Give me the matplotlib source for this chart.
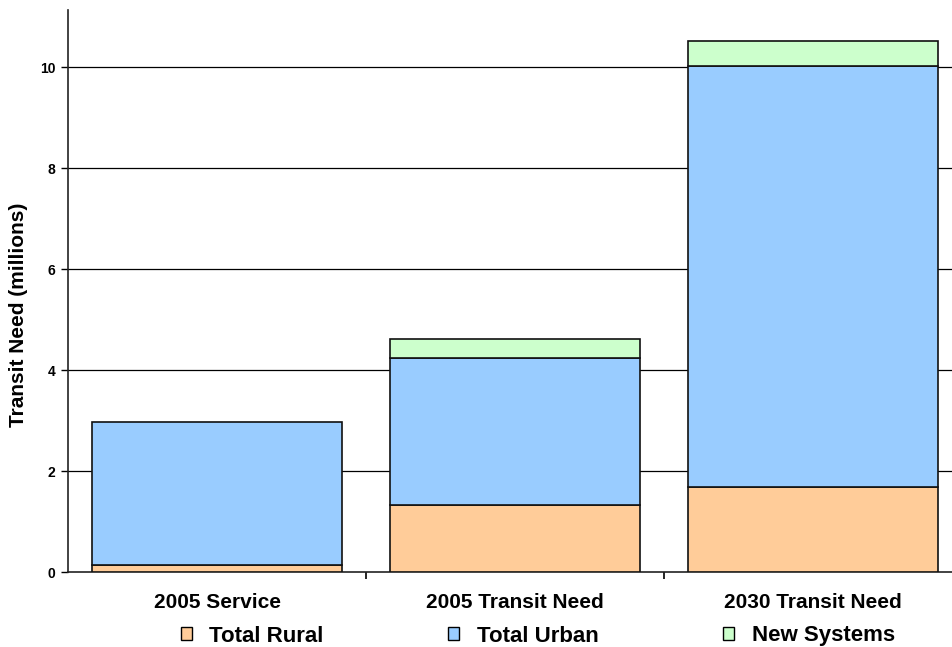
import matplotlib
matplotlib.use("Agg")
import matplotlib.pyplot as plt
from matplotlib.patches import Patch
import numpy as np

# Transit need by scenario, millions
categories = ["2005 Service", "2005 Transit Need", "2030 Transit Need"]
rural = [0.14, 1.33, 1.69]
urban = [2.83, 2.91, 8.33]
new_systems = [0.0, 0.37, 0.50]
series_names = ["Total Rural", "Total Urban", "New Systems"]
colors = ["#FFCC99", "#99CCFF", "#CCFFCC"]
y_ticks = [0, 2, 4, 6, 8, 10]

plt.rcParams["font.family"] = ["Liberation Sans Narrow", "Liberation Sans", "DejaVu Sans"]

fig = plt.figure(figsize=(9.53, 6.47), dpi=100)
ax = fig.add_axes([68 / 953, 75 / 647, 894 / 953, 562 / 647])

x = np.arange(len(categories))
width = 0.836
bottom = np.zeros(len(categories))
for vals, col in zip([rural, urban, new_systems], colors):
    vals = np.array(vals)
    mask = vals > 0
    ax.bar(x[mask], vals[mask], width, bottom=bottom[mask], color=col,
           edgecolor="#111111", linewidth=1.2, zorder=3)
    bottom += vals

ax.set_xlim(-0.5, 2.5)
ax.set_ylim(0, 11.13)
ax.set_yticks(y_ticks)
ax.set_yticklabels([str(t) for t in y_ticks], fontsize=10, fontweight="bold")
for t in y_ticks[1:]:
    ax.axhline(t, color="black", linewidth=0.9, zorder=1)

ax.set_xticks(x)
ax.set_xticklabels(categories, fontsize=15, fontweight="bold")
ax.set_xticks([0.5, 1.5], minor=True)
ax.tick_params(axis="x", which="major", length=0, pad=15)
ax.tick_params(axis="x", which="minor", length=5, width=1.2, direction="out")
ax.tick_params(axis="y", length=5, width=1, direction="out", pad=4)

for side in ["top", "right"]:
    ax.spines[side].set_visible(False)
for side in ["left", "bottom"]:
    ax.spines[side].set_linewidth(1.2)
    ax.spines[side].set_color("#222222")

ax.set_ylabel("Transit Need (millions)", fontsize=15, fontweight="bold",
              family=["Liberation Sans", "DejaVu Sans"])
ax.yaxis.set_label_coords(-40 / 894, 0.457)

handles = [Patch(facecolor=c, edgecolor="black", linewidth=1) for c in colors]
fig.legend(handles, series_names, loc="center", bbox_to_anchor=(538 / 953, 1 - 636 / 647),
           ncol=3, frameon=False, handlelength=0.5, handleheight=0.5,
           handletextpad=0.8, columnspacing=5.6, borderpad=0,
           prop={"size": 16, "weight": "bold", "family": ["Liberation Sans", "DejaVu Sans"]})

fig.savefig("out.png", dpi=100)
